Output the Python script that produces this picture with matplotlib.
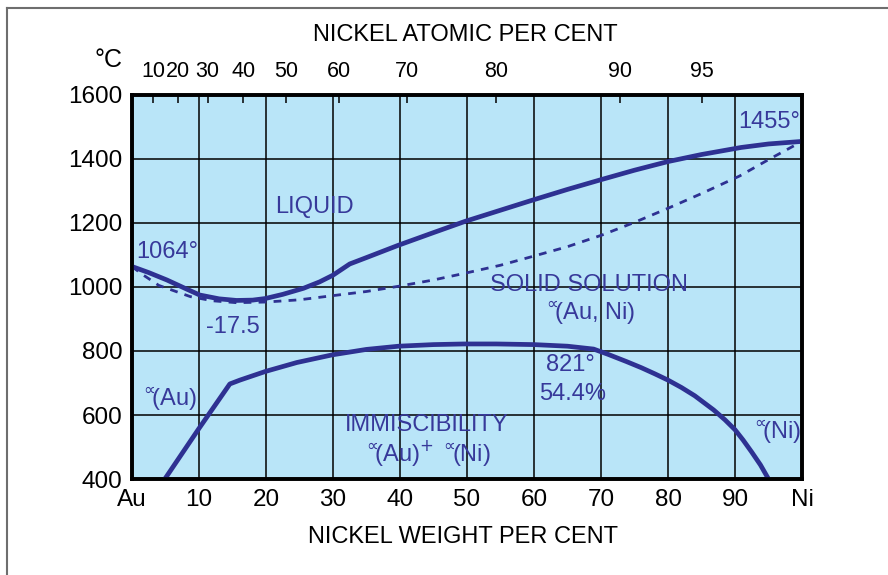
import matplotlib
matplotlib.use("Agg")
import matplotlib.pyplot as plt
from matplotlib.lines import Line2D

plt.rcParams['font.family'] = ['Liberation Sans', 'DejaVu Sans']

# liquidus (solid line), weight % Ni vs deg C
liq_x = [0, 2.5, 5.2, 8, 10.1, 13, 15.6, 18, 19.9, 22.5, 25.6, 28, 30, 32.5, 35, 39.7, 45, 49.7, 55, 59.7, 65, 70.1, 75, 80, 85, 90.9, 95, 100]
liq_y = [1064, 1045, 1022, 995, 975, 963, 958, 959, 964, 977, 996, 1016, 1037, 1072, 1092, 1130, 1170, 1205, 1240, 1271, 1305, 1336, 1365, 1392, 1414, 1436, 1447, 1455]

# solidus (dashed line)
sol_x = [0, 1.5, 4, 8.7, 12, 15.6, 20, 25, 29.6, 35, 39.7, 45, 49.7, 55, 59.7, 65, 70.1, 75, 80, 85, 90.7, 95, 100]
sol_y = [1064, 1040, 1005, 970, 957, 951, 953, 960, 972, 986, 1002, 1022, 1043, 1068, 1095, 1126, 1162, 1202, 1246, 1292, 1347, 1398, 1455]

# miscibility gap boundary
gap_x = [4.9, 9.9, 14.6, 16.1, 19.9, 24.6, 29.9, 35, 39.8, 45, 49.5, 54.4, 60, 65, 68.9, 71, 73.8, 76, 78, 80, 82, 84, 86.8, 88.5, 90, 91.2, 92.5, 93.8, 95]
gap_y = [400, 555, 697, 709, 736, 764, 788, 805, 815, 820, 822, 822, 820, 815, 806, 790, 767, 748, 729, 709, 686, 660, 616, 585, 554, 522, 484, 444, 400]

weight_ticks = [0, 10, 20, 30, 40, 50, 60, 70, 80, 90, 100]
weight_labels = ['Au', '10', '20', '30', '40', '50', '60', '70', '80', '90', 'Ni']
temp_ticks = [400, 600, 800, 1000, 1200, 1400, 1600]

# atomic per cent marks, placed at the matching weight per cent
atomic_pos = [3.2, 6.9, 11.3, 16.6, 23.0, 30.9, 41.0, 54.4, 72.8, 85.0]
atomic_labels = ['10', '20', '30', '40', '50', '60', '70', '80', '90', '95']

line_col = '#2e3192'
text_col = '#37399a'

fig = plt.figure(figsize=(8.88, 5.75), dpi=100)
ax = fig.add_axes([132 / 888, 1 - 479 / 575, 670 / 888, 384 / 575])
ax.set_facecolor('#b9e5f8')

ax.plot(liq_x, liq_y, color=line_col, lw=3.4, solid_capstyle='butt', zorder=4)
ax.plot(sol_x, sol_y, color=line_col, lw=2.0, dashes=(2.8, 2.6), zorder=4)
ax.plot(gap_x, gap_y, color=line_col, lw=3.4, zorder=4)

ax.set_xlim(0, 100)
ax.set_ylim(400, 1600)
ax.set_xticks(weight_ticks)
ax.set_xticklabels(weight_labels)
ax.set_yticks(temp_ticks)
ax.tick_params(length=0, labelsize=17.5, pad=7)
ax.grid(True, color='black', lw=1.1, zorder=1)
ax.set_axisbelow(True)
for s in ax.spines.values():
    s.set_linewidth(2.6)

ax2 = ax.twiny()
ax2.set_xlim(0, 100)
ax2.set_xticks(atomic_pos)
ax2.set_xticklabels(atomic_labels)
ax2.tick_params(direction='in', length=6, width=1.1, labelsize=15.5, pad=9)
for s in ax2.spines.values():
    s.set_linewidth(2.6)

# labels inside the diagram
kw = dict(color=text_col, fontsize=17, zorder=5)
ax.text(0.6, 1108, '1064°', ha='left', va='center', **kw)
ax.text(15.1, 875, '-17.5', ha='center', va='center', **kw)
ax.text(99.7, 1515, '1455°', ha='right', va='center', **kw)
ax.text(27.2, 1250, 'LIQUID', ha='center', va='center', **kw)
ax.text(68.2, 1006, 'SOLID SOLUTION', ha='center', va='center', **kw)
ax.text(68.2, 919, r'$^{\propto}\!\!$(Au, Ni)', ha='center', va='center', **kw)
ax.text(65.4, 757, '821°', ha='center', va='center', **kw)
ax.text(65.8, 666, '54.4%', ha='center', va='center', **kw)
ax.text(5.4, 648, r'$^{\propto}\!\!$(Au)', ha='center', va='center', **kw)
ax.text(44.0, 569, 'IMMISCIBILITY', ha='center', va='center', **kw)
ax.text(44.0, 481, r'$^{\propto}\!\!$(Au)$^{+}$ $^{\propto}\!\!$(Ni)', ha='center', va='center', **kw)
ax.text(96.2, 547, r'$^{\propto}\!\!$(Ni)', ha='center', va='center', **kw)

fig.text(122 / 888, 1 - 60 / 575, '°C', ha='right', va='center', fontsize=18)
fig.text(465 / 888, 1 - 35 / 575, 'NICKEL ATOMIC PER CENT', ha='center', va='center', fontsize=17)
fig.text(463 / 888, 1 - 537 / 575, 'NICKEL WEIGHT PER CENT', ha='center', va='center', fontsize=17)

# partial frame round the figure
fig.add_artist(Line2D([7 / 888, 1], [1 - 8 / 575, 1 - 8 / 575], color='#6e6e6e', lw=1.5))
fig.add_artist(Line2D([7 / 888, 7 / 888], [0, 1 - 8 / 575], color='#6e6e6e', lw=1.5))

fig.savefig('out.png', dpi=100)
